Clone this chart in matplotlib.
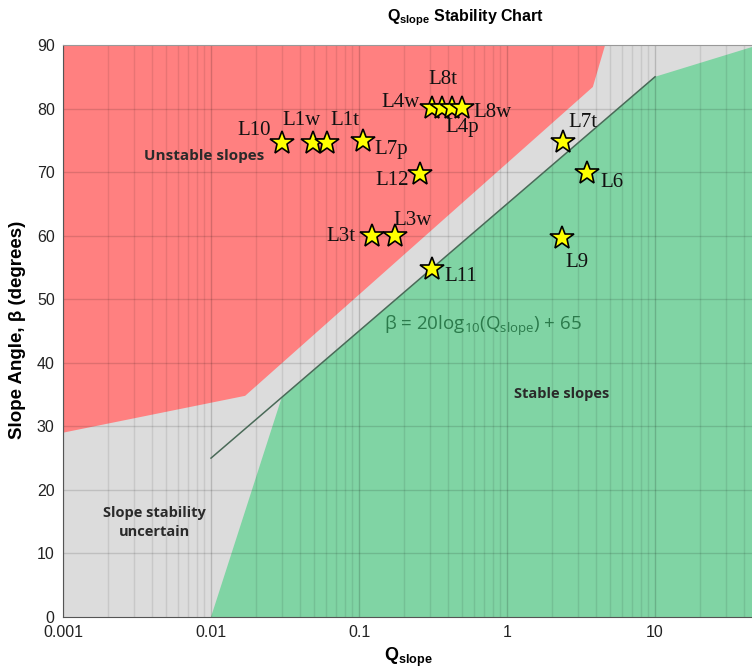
import numpy as np
import matplotlib
matplotlib.use("Agg")
import matplotlib.pyplot as plt

plt.rcParams['mathtext.fontset'] = 'custom'
plt.rcParams['mathtext.rm'] = 'Open Sans'
plt.rcParams['mathtext.bf'] = 'Liberation Sans:bold'

# Q-slope cases
labels = ['L10', 'L1w', 'L1t', 'L7p', 'L12', 'L3t', 'L3w', 'L11',
          'L4w', 'L8t', 'L4p', 'L8w', 'L7t', 'L6', 'L9']
q_vals = [0.030, 0.049, 0.061, 0.106, 0.258, 0.122, 0.175, 0.311,
          0.311, 0.364, 0.425, 0.496, 2.39, 3.47, 2.35]
beta_vals = [74.6, 74.6, 74.6, 74.9, 69.7, 59.9, 59.9, 54.8,
             80.1, 80.1, 80.1, 80.1, 74.7, 69.9, 59.6]
# label offsets in pixels
label_dx = [-28, -12, 18, 28, -28, -31, 18, 29, -31, 1, 10, 31, 20, 25, 15]
label_dy = [12, 22, 22, -9, -6, 0, 16, -8, 5, 28, -20, -5, 20, -10, -24]

# zone boundaries
unstable_q = [0.001, 0.017, 3.8, 4.6, 0.001]
unstable_b = [29.0, 34.8, 83.4, 90.0, 90.0]
stable_q = [0.01, 0.030, 10.0, 50.0, 50.0]
stable_b = [0.0, 34.5, 85.0, 90.0, 0.0]
line_q = np.array([0.01, 10.0])

xmax = 10 ** 1.655

fig = plt.figure(figsize=(7.52, 6.70), dpi=100)
ax = fig.add_axes([63 / 752, 53 / 670, 689 / 752, 572 / 670])
ax.set_xscale('log')
ax.set_xlim(0.001, xmax)
ax.set_ylim(0, 90)
ax.set_facecolor('#dcdcdc')

ax.fill(unstable_q, unstable_b, color='#ff8080', lw=0, zorder=1)
ax.fill(stable_q, stable_b, color='#80d4a4', lw=0, zorder=1)
ax.plot(line_q, 20 * np.log10(line_q) + 65, color='#4a6a58', lw=1.1, zorder=3)

# grid
for d in [0.001, 0.01, 0.1, 1, 10]:
    for m in range(1, 10):
        v = d * m
        if v >= xmax:
            continue
        ax.axvline(v, color='black', alpha=0.17 if m == 1 else 0.09,
                   lw=1.0, zorder=2)
for b in range(10, 90, 10):
    ax.axhline(b, color='black', alpha=0.13, lw=1.0, zorder=2)

ax.plot(q_vals, beta_vals, ls='none', marker='*', markersize=18,
        markerfacecolor='#ffff00', markeredgecolor='black',
        markeredgewidth=1.2, zorder=5)
for lab, q, b, dx, dy in zip(labels, q_vals, beta_vals, label_dx, label_dy):
    ax.annotate(lab, (q, b), xytext=(dx, dy), textcoords='offset pixels',
                ha='center', va='center', fontsize=15,
                family='Liberation Serif', color='#111111', zorder=6)

ax.text(0.00897, 72.5, 'Unstable slopes', ha='center', va='center',
        fontsize=11, fontweight='bold', family='Open Sans', color='#2a2a2a')
ax.text(2.35, 35.1, 'Stable slopes', ha='center', va='center',
        fontsize=10.5, fontweight='bold', family='Open Sans', color='#2a2a2a')
ax.text(0.00412, 14.9, 'Slope stability\nuncertain', ha='center', va='center',
        fontsize=10.5, fontweight='bold', family='Open Sans', color='#2a2a2a',
        linespacing=1.5)
ax.text(0.147, 45.9, r'β = 20log$_{10}$(Q$_{\rm slope}$) + 65', ha='left',
        va='center', fontsize=13.5, family='Open Sans', color='#2b7a4b')

ax.set_xticks([0.001, 0.01, 0.1, 1, 10])
ax.set_xticklabels(['0.001', '0.01', '0.1', '1', '10'])
ax.xaxis.set_minor_locator(plt.NullLocator())
ax.set_yticks(range(0, 91, 10))
ax.tick_params(length=0, labelsize=11.5, colors='#222222', pad=6)
for t in ax.get_xticklabels() + ax.get_yticklabels():
    t.set_family('Liberation Sans')

ax.spines['right'].set_visible(False)
ax.spines['left'].set_color('#555555')
ax.spines['bottom'].set_color('#555555')
ax.spines['top'].set_color('#999999')
for s in ax.spines.values():
    s.set_zorder(7)

fig.text(18 / 752, 1 - 330 / 670, 'Slope Angle, β (degrees)', rotation=90,
         ha='center', va='center', fontsize=13.5, fontweight='bold',
         family='Liberation Sans')
fig.text(408 / 752, 1 - 657 / 670, r'$\mathbf{Q_{slope}}$', ha='center',
         va='center', fontsize=13)
fig.text(466 / 752, 1 - 18 / 670, r'$\mathbf{Q_{slope}}$' + ' Stability Chart',
         ha='center', va='center', fontsize=11.5, fontweight='bold',
         family='Liberation Sans')

fig.savefig('out.png', dpi=100)
